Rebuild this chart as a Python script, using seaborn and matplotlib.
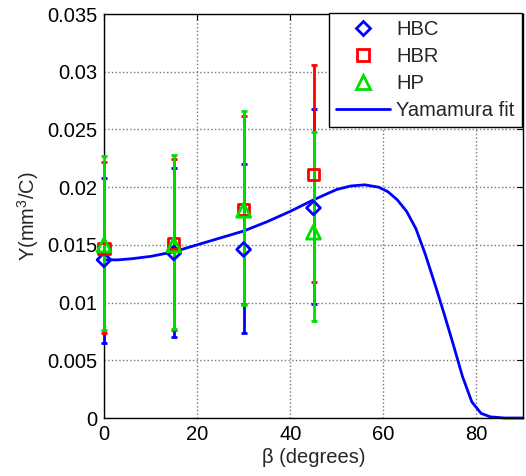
import matplotlib
matplotlib.use("Agg")
import matplotlib.pyplot as plt
from matplotlib.lines import Line2D
import seaborn as sns
import pandas as pd

# ---- data ----
beta = [0, 15, 30, 45]

hbc_y = [0.0137, 0.0143, 0.0146, 0.0182]
hbc_lo = [0.0065, 0.0070, 0.0074, 0.0099]
hbc_hi = [0.0208, 0.0217, 0.0220, 0.0268]

hbr_y = [0.0147, 0.0151, 0.0181, 0.0211]
hbr_lo = [0.0074, 0.0076, 0.0099, 0.0118]
hbr_hi = [0.0222, 0.0224, 0.0262, 0.0306]

hp_y = [0.0150, 0.0150, 0.0180, 0.0161]
hp_lo = [0.0076, 0.0077, 0.0098, 0.0084]
hp_hi = [0.0227, 0.0228, 0.0266, 0.0248]

fit_x = [0, 3, 6, 10, 15, 20, 25, 30, 35, 40, 45, 50, 53, 56, 59, 61, 63,
         65, 67, 69, 71, 73, 75, 77, 79, 81, 83, 86, 90]
fit_y = [0.0137, 0.0137, 0.0138, 0.0140, 0.0144, 0.0150, 0.0156, 0.0162,
         0.0170, 0.0179, 0.0189, 0.0198, 0.0201, 0.0202, 0.0200, 0.0196,
         0.0189, 0.0179, 0.0164, 0.0142, 0.0117, 0.0091, 0.0064, 0.0036,
         0.0014, 0.0004, 0.0001, 0.0, 0.0]

x_ticks = [0, 20, 40, 60, 80]
y_ticks = [0, 0.005, 0.01, 0.015, 0.02, 0.025, 0.03, 0.035]
y_tick_labels = ["0", "0.005", "0.01", "0.015", "0.02", "0.025", "0.03", "0.035"]

# ---- style ----
sns.set_style("white")
plt.rcParams["font.family"] = ["Liberation Sans", "DejaVu Sans"]
plt.rcParams["mathtext.fontset"] = "custom"
plt.rcParams["mathtext.rm"] = "Liberation Sans"
FS = 14.5

fig = plt.figure(figsize=(5.26, 4.76), dpi=100)
ax = fig.add_axes([104 / 526, 58 / 476, 419 / 526, 404 / 476])

fit_df = pd.DataFrame({"beta": fit_x, "Y": fit_y})
sns.lineplot(data=fit_df, x="beta", y="Y", ax=ax, color="#0000ff",
             linewidth=2.0, zorder=2, clip_on=False)

series = [
    ("HBC", hbc_y, hbc_lo, hbc_hi, "#0000ff", "D", 7),
    ("HBR", hbr_y, hbr_lo, hbr_hi, "#ff0000", "s", 8),
    ("HP", hp_y, hp_lo, hp_hi, "#00e000", "^", 10),
]
for name, ys, lo, hi, col, mk, ms in series:
    err = [[y - l for y, l in zip(ys, lo)], [h - y for y, h in zip(ys, hi)]]
    eb = ax.errorbar(beta, ys, yerr=err, fmt="none", ecolor=col,
                     elinewidth=2.0, capsize=2.0, capthick=2.0, zorder=3)
    for art in eb.lines[1] + eb.lines[2]:
        art.set_clip_on(False)
    sns.scatterplot(x=beta, y=ys, ax=ax, marker=mk, s=ms ** 2,
                    facecolor="none", edgecolor=col, linewidth=2.0,
                    zorder=4, clip_on=False, legend=False)

ax.set_xlim(0, 90)
ax.set_ylim(0, 0.035)
ax.set_xticks(x_ticks)
ax.set_yticks(y_ticks)
ax.set_yticklabels(y_tick_labels)
ax.tick_params(direction="in", length=4, width=0.8, top=True, right=True,
               labelsize=FS, pad=5, colors="black")
ax.grid(True, linestyle=":", color="#777777", linewidth=1.0)
for sp in ax.spines.values():
    sp.set_visible(True)
    sp.set_color("black")
    sp.set_linewidth(1.0)

ax.set_xlabel(r"β (degrees)", fontsize=FS, labelpad=3)
ax.set_ylabel(r"Y(mm$^\mathregular{3}$/C)", fontsize=FS, labelpad=4)

handles = [
    Line2D([], [], linestyle="none", marker="D", markersize=7,
           markerfacecolor="none", markeredgecolor="#0000ff", markeredgewidth=2),
    Line2D([], [], linestyle="none", marker="s", markersize=8,
           markerfacecolor="none", markeredgecolor="#ff0000", markeredgewidth=2),
    Line2D([], [], linestyle="none", marker="^", markersize=10,
           markerfacecolor="none", markeredgecolor="#00e000", markeredgewidth=2),
    Line2D([], [], color="#0000ff", linewidth=2),
]
leg = fig.legend(handles, ["HBC", "HBR", "HP", "Yamamura fit"],
                 loc="upper left", bbox_to_anchor=(329 / 526, 1 - 13 / 476),
                 fontsize=FS, frameon=True, fancybox=False, framealpha=1,
                 edgecolor="black", borderpad=0.35, labelspacing=0.4,
                 handlelength=2.7, handletextpad=0.3, borderaxespad=0)
leg.get_frame().set_linewidth(1.0)

fig.savefig("out.png", dpi=100)
